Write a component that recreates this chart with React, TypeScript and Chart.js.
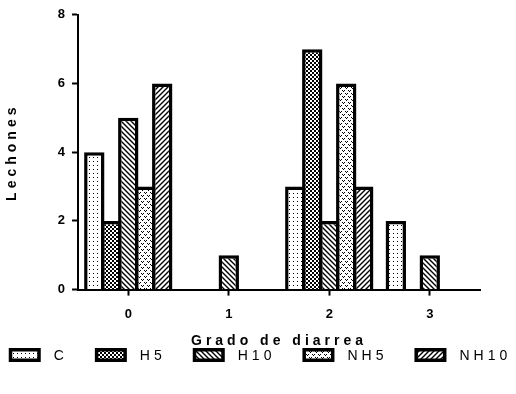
import React, { useEffect, useRef } from 'react';
import { Chart, registerables } from 'chart.js';

Chart.register(...registerables);

// ---- data ----
const categories = ['0', '1', '2', '3'];
const seriesLabels = ['C', 'H5', 'H10', 'NH5', 'NH10'];
const valuesC = [4, 0, 3, 2];
const valuesH5 = [2, 0, 7, 0];
const valuesH10 = [5, 1, 2, 1];
const valuesNH5 = [3, 0, 6, 0];
const valuesNH10 = [6, 0, 3, 0];
const yTickValues = [0, 2, 4, 6, 8];
const xTitle = 'Grado de diarrea';
const yTitle = 'Lechones';

const FONT = "'Liberation Sans', Arial, sans-serif";

type PatternKind = 'dots' | 'checker' | 'back' | 'vdots' | 'fwd';
const patternKinds: PatternKind[] = ['dots', 'checker', 'back', 'vdots', 'fwd'];

function makePattern(kind: PatternKind): CanvasPattern | string {
  const c = document.createElement('canvas');
  const s = kind === 'checker' ? 4 : kind === 'dots' ? 4 : kind === 'vdots' ? 6 : 5;
  c.width = s;
  c.height = s;
  const g = c.getContext('2d');
  if (!g) return '#fff';
  g.fillStyle = '#fff';
  g.fillRect(0, 0, s, s);
  g.fillStyle = '#000';
  g.strokeStyle = '#000';
  switch (kind) {
    case 'dots':
      g.fillRect(1, 1, 1, 1);
      break;
    case 'checker':
      g.fillRect(0, 0, 2, 2);
      g.fillRect(2, 2, 2, 2);
      break;
    case 'vdots':
      g.fillRect(0, 0, 1, 1);
      g.fillRect(2, 0, 1, 1);
      g.fillRect(1, 1, 1, 1);
      g.fillRect(3, 3, 1, 1);
      g.fillRect(5, 3, 1, 1);
      g.fillRect(4, 4, 1, 1);
      break;
    case 'back':
      g.lineWidth = 1.4;
      g.beginPath();
      g.moveTo(0, 0); g.lineTo(s, s);
      g.moveTo(-1, s - 1); g.lineTo(1, s + 1);
      g.moveTo(s - 1, -1); g.lineTo(s + 1, 1);
      g.stroke();
      break;
    case 'fwd':
      g.lineWidth = 1.4;
      g.beginPath();
      g.moveTo(0, s); g.lineTo(s, 0);
      g.moveTo(-1, 1); g.lineTo(1, -1);
      g.moveTo(s - 1, s + 1); g.lineTo(s + 1, s - 1);
      g.stroke();
      break;
  }
  return g.createPattern(c, 'repeat') || '#fff';
}

const spacingPlugin = {
  id: 'titleSpacing',
  beforeLayout(chart: any) {
    chart.ctx.letterSpacing = '0px';
  },
  beforeDraw(chart: any) {
    chart.ctx.letterSpacing = '4px';
  },
  afterDatasetsDraw(chart: any) {
    chart.ctx.letterSpacing = '0px';
  },
};

const legendPlugin = {
  id: 'boxLegend',
  afterDraw(chart: any) {
    const ctx: CanvasRenderingContext2D = chart.ctx;
    ctx.save();
    ctx.font = `14px ${FONT}`;
    (ctx as any).letterSpacing = '4px';
    ctx.textBaseline = 'middle';
    ctx.textAlign = 'left';
    const boxW = 32, boxH = 14, bw = 3.5, textGap = 13, itemGap = 27;
    const items = chart.data.datasets.map((ds: any) => ({
      label: ds.label as string,
      fill: ds.backgroundColor,
      w: boxW + textGap + ctx.measureText(ds.label).width,
    }));
    const total = items.reduce((a: number, b: any) => a + b.w, 0) + itemGap * (items.length - 1);
    let x = (chart.width - total) / 2 + 2;
    const y = 355;
    for (const it of items) {
      ctx.fillStyle = '#000';
      ctx.fillRect(x, y - boxH / 2, boxW, boxH);
      ctx.fillStyle = it.fill;
      ctx.fillRect(x + bw, y - boxH / 2 + bw, boxW - 2 * bw, boxH - 2 * bw);
      ctx.fillStyle = '#000';
      ctx.fillText(it.label, x + boxW + textGap, y + 1);
      x += it.w + itemGap;
    }
    ctx.restore();
  },
};

export default function App() {
  const ref = useRef<HTMLCanvasElement | null>(null);

  useEffect(() => {
    document.body.style.margin = '0';
    const canvas = ref.current;
    if (!canvas) return;
    const seriesValues = [valuesC, valuesH5, valuesH10, valuesNH5, valuesNH10];
    const chart = new Chart(canvas, {
      type: 'bar',
      data: {
        labels: categories,
        datasets: seriesLabels.map((label, i) => ({
          label,
          data: seriesValues[i],
          backgroundColor: makePattern(patternKinds[i]) as any,
          borderColor: '#000',
          borderWidth: 3.5,
          barPercentage: 1.2,
          categoryPercentage: 0.845,
        })),
      },
      options: {
        responsive: false,
        animation: false,
        layout: { padding: { top: 14, right: 36, left: 2, bottom: 40 } },
        plugins: {
          legend: { display: false },
          tooltip: { enabled: false },
        },
        scales: {
          x: {
            type: 'category',
            offset: true,
            grid: {
              display: true,
              drawOnChartArea: false,
              drawTicks: true,
              tickLength: 6,
              tickWidth: 2,
              tickColor: '#000',
              offset: false,
            },
            border: { display: true, color: '#000', width: 2 },
            ticks: {
              color: '#000',
              padding: 11,
              z: 1,
              font: { family: FONT, size: 13, weight: 'bold' },
            },
            title: {
              display: true,
              text: xTitle,
              color: '#000',
              font: { family: FONT, size: 14, weight: 'bold' },
              padding: { top: 0, bottom: 4 },
            },
          },
          y: {
            min: yTickValues[0],
            max: yTickValues[yTickValues.length - 1],
            afterBuildTicks: (axis: any) => {
              axis.ticks = yTickValues.map((v) => ({ value: v }));
            },
            grid: {
              display: true,
              drawOnChartArea: false,
              drawTicks: true,
              tickLength: 6,
              tickWidth: 2,
              tickColor: '#000',
            },
            border: { display: true, color: '#000', width: 2 },
            ticks: {
              color: '#000',
              padding: 7,
              z: 1,
              font: { family: FONT, size: 13, weight: 'bold' },
            },
            title: {
              display: true,
              text: yTitle,
              color: '#000',
              font: { family: FONT, size: 14, weight: 'bold' },
              padding: { top: 2, bottom: 30 },
            },
          },
        },
      },
      plugins: [spacingPlugin, legendPlugin],
    } as any);
    return () => chart.destroy();
  }, []);

  return (
    <div style={{ position: 'absolute', left: 0, top: 0, width: 516, height: 394 }}>
      <canvas ref={ref} width={516} height={394} />
    </div>
  );
}
